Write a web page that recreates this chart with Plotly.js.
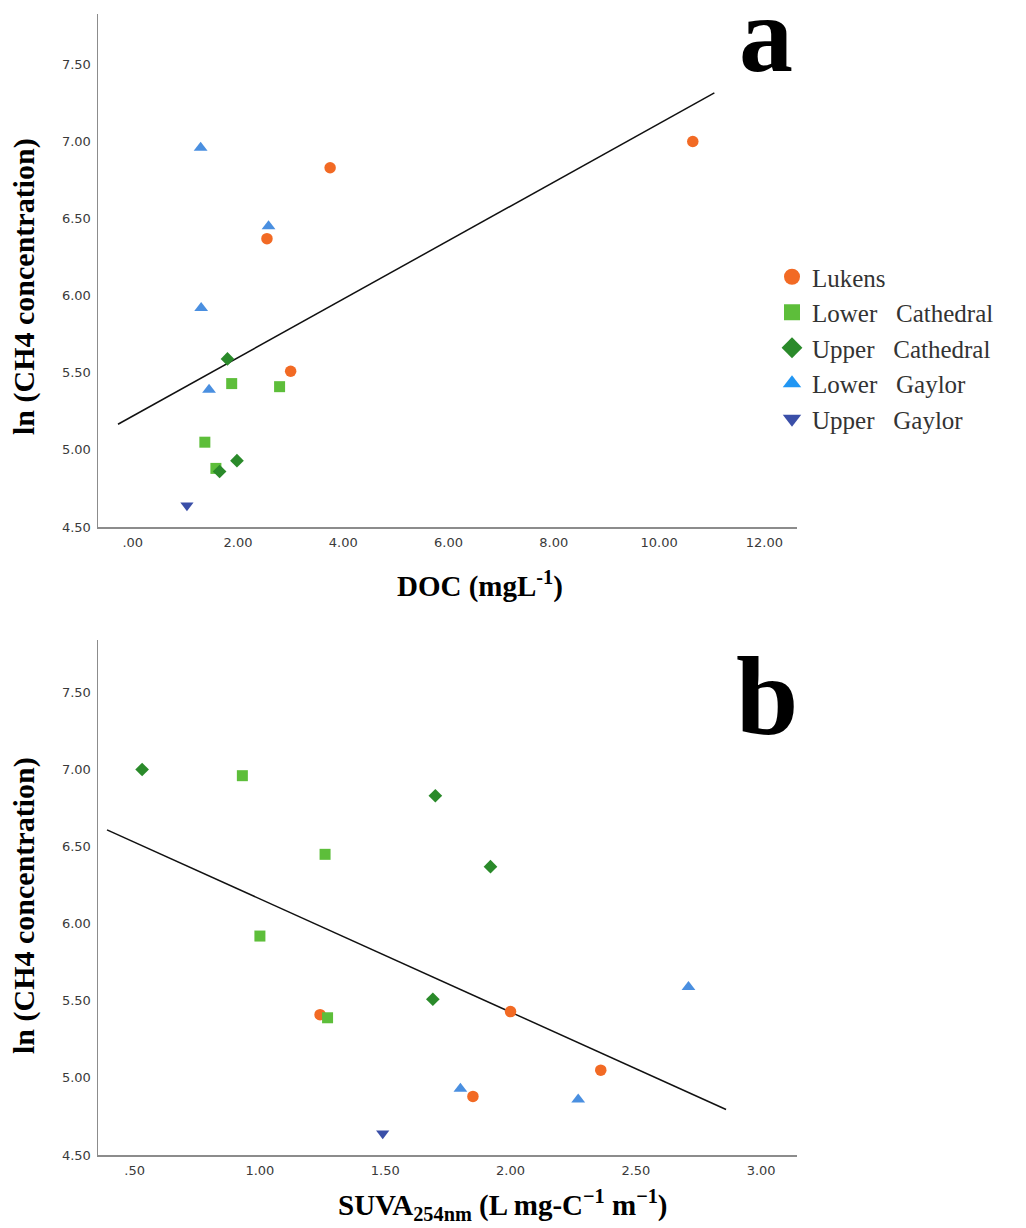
<!DOCTYPE html>
<html>
<head>
<meta charset="utf-8">
<script src="https://cdn.plot.ly/plotly-3.0.1.min.js"></script>
<style>
  html, body { margin: 0; padding: 0; background: #ffffff; }
  #chart { width: 1026px; height: 1228px; }
</style>
</head>
<body>
<div id="chart"></div>
<script>
// ---------- Data ----------
var seriesNames = ["Lukens", "Lower   Cathedral", "Upper   Cathedral", "Lower   Gaylor", "Upper   Gaylor"];

// Panel a: DOC (mg/L) vs ln(CH4)
var docLukens = [3.75, 2.55, 3.00, 10.64];
var lnLukensA = [6.83, 6.37, 5.51, 7.00];
var docLowerCathedral = [1.88, 2.79, 1.37, 1.58];
var lnLowerCathedralA = [5.43, 5.41, 5.05, 4.88];
var docUpperCathedral = [1.80, 1.98, 1.65];
var lnUpperCathedralA = [5.59, 4.93, 4.86];
var docLowerGaylor = [1.29, 2.58, 1.30, 1.45];
var lnLowerGaylorA = [6.96, 6.45, 5.92, 5.39];
var docUpperGaylor = [1.03];
var lnUpperGaylorA = [4.64];

// Panel b: SUVA254 vs ln(CH4)
var suvaLukens = [1.24, 1.85, 2.00, 2.36];
var lnLukensB = [5.41, 4.88, 5.43, 5.05];
var suvaLowerCathedral = [0.93, 1.26, 1.00, 1.27];
var lnLowerCathedralB = [6.96, 6.45, 5.92, 5.39];
var suvaUpperCathedral = [0.53, 1.70, 1.92, 1.69];
var lnUpperCathedralB = [7.00, 6.83, 6.37, 5.51];
var suvaLowerGaylor = [1.80, 2.27, 2.71];
var lnLowerGaylorB = [4.93, 4.86, 5.59];
var suvaUpperGaylor = [1.49];
var lnUpperGaylorB = [4.64];

// Extent of the drawn fit lines (x)
var fitSpanA = [-0.28, 11.05];
var fitSpanB = [0.39, 2.86];

// Tick labels
var yTickVals = [4.5, 5.0, 5.5, 6.0, 6.5, 7.0, 7.5];
var yTickText = ["4.50", "5.00", "5.50", "6.00", "6.50", "7.00", "7.50"];
var xTickValsA = [0, 2, 4, 6, 8, 10, 12];
var xTickTextA = [".00", "2.00", "4.00", "6.00", "8.00", "10.00", "12.00"];
var xTickValsB = [0.5, 1.0, 1.5, 2.0, 2.5, 3.0];
var xTickTextB = [".50", "1.00", "1.50", "2.00", "2.50", "3.00"];

// ---------- Styles ----------
var markerSymbols = ["circle", "square", "diamond", "triangle-up", "triangle-down"];
var markerColors = ["#F26A24", "#5DBE3A", "#2A8A2A", "#4A8FE0", "#3A4FA8"];
var legendColors = ["#F26A24", "#5DBE3A", "#2A8A2A", "#2196F3", "#3A4FA8"];
var markerSizes = [11.5, 11, 10.5, 12, 11.5];

var seriesA = [
  [docLukens, lnLukensA], [docLowerCathedral, lnLowerCathedralA],
  [docUpperCathedral, lnUpperCathedralA], [docLowerGaylor, lnLowerGaylorA],
  [docUpperGaylor, lnUpperGaylorA]
];
var seriesB = [
  [suvaLukens, lnLukensB], [suvaLowerCathedral, lnLowerCathedralB],
  [suvaUpperCathedral, lnUpperCathedralB], [suvaLowerGaylor, lnLowerGaylorB],
  [suvaUpperGaylor, lnUpperGaylorB]
];

function olsLine(series, span) {
  var xs = [], ys = [];
  series.forEach(function (s) { xs = xs.concat(s[0]); ys = ys.concat(s[1]); });
  var n = xs.length, mx = 0, my = 0;
  for (var i = 0; i < n; i++) { mx += xs[i]; my += ys[i]; }
  mx /= n; my /= n;
  var sxy = 0, sxx = 0;
  for (var j = 0; j < n; j++) { sxy += (xs[j] - mx) * (ys[j] - my); sxx += (xs[j] - mx) * (xs[j] - mx); }
  var b = sxy / sxx, a = my - b * mx;
  return { x: span.slice(), y: span.map(function (v) { return a + b * v; }) };
}

var traces = [];
var fitA = olsLine(seriesA, fitSpanA);
var fitB = olsLine(seriesB, fitSpanB);
traces.push({ x: fitA.x, y: fitA.y, mode: "lines", line: { color: "#111", width: 1.5 }, showlegend: false, hoverinfo: "skip", xaxis: "x", yaxis: "y" });
traces.push({ x: fitB.x, y: fitB.y, mode: "lines", line: { color: "#111", width: 1.5 }, showlegend: false, hoverinfo: "skip", xaxis: "x2", yaxis: "y2" });

for (var k = 0; k < seriesNames.length; k++) {
  traces.push({
    x: seriesA[k][0], y: seriesA[k][1], mode: "markers", name: seriesNames[k],
    marker: { symbol: markerSymbols[k], color: markerColors[k], size: markerSizes[k] },
    showlegend: false, xaxis: "x", yaxis: "y"
  });
  traces.push({
    x: seriesB[k][0], y: seriesB[k][1], mode: "markers", name: seriesNames[k],
    marker: { symbol: markerSymbols[k], color: markerColors[k], size: markerSizes[k] },
    showlegend: false, xaxis: "x2", yaxis: "y2"
  });
}
// legend entries (larger symbols like the reference legend)
for (var m = 0; m < seriesNames.length; m++) {
  traces.push({
    x: [null], y: [null], mode: "markers", name: seriesNames[m],
    marker: { symbol: markerSymbols[m], color: legendColors[m], size: 16 },
    showlegend: true, xaxis: "x", yaxis: "y"
  });
}

var W = 1026, H = 1228;
var tickFont = { family: "DejaVu Sans, Verdana, sans-serif", size: 13, color: "#3a3a3a" };
var axisCommon = {
  showline: true, linecolor: "#8c8c8c", linewidth: 1.5, showgrid: false, zeroline: false,
  ticks: "", tickfont: tickFont, tickmode: "array", ticklabelstandoff: 3, fixedrange: true
};
function ax(extra) { return Object.assign({}, axisCommon, extra); }

var titleFont = { family: "Liberation Serif, Times New Roman, serif", size: 29, color: "#000" };

var layout = {
  width: W, height: H,
  margin: { l: 0, r: 0, t: 0, b: 0 },
  paper_bgcolor: "#ffffff", plot_bgcolor: "#ffffff",
  showlegend: true,
  legend: {
    x: 772 / W, y: 1 - 254 / H, xanchor: "left", yanchor: "top",
    font: { family: "Liberation Serif, Times New Roman, serif", size: 25, color: "#333" },
    bgcolor: "rgba(0,0,0,0)", itemwidth: 30, tracegroupgap: 0
  },
  xaxis: ax({ domain: [98 / W, 797 / W], range: [-0.66, 12.62], tickvals: xTickValsA, ticktext: xTickTextA, anchor: "y" }),
  yaxis: ax({ domain: [(H - 527) / H, (H - 13.5) / H], range: [4.5, 7.83], tickvals: yTickVals, ticktext: yTickText, anchor: "x" }),
  xaxis2: ax({ domain: [98 / W, 797 / W], range: [0.354, 3.143], tickvals: xTickValsB, ticktext: xTickTextB, anchor: "y2" }),
  yaxis2: ax({ domain: [(H - 1155) / H, (H - 640) / H], range: [4.5, 7.84], tickvals: yTickVals, ticktext: yTickText, anchor: "x2" }),
  annotations: [
    { text: "<b>ln (CH4 concentration)</b>", textangle: -90, xref: "paper", yref: "paper",
      x: 24 / W, y: 1 - 287 / H, xanchor: "center", yanchor: "middle", showarrow: false,
      font: Object.assign({}, titleFont, { size: 30 }) },
    { text: "<b>ln (CH4 concentration)</b>", textangle: -90, xref: "paper", yref: "paper",
      x: 24 / W, y: 1 - 906 / H, xanchor: "center", yanchor: "middle", showarrow: false,
      font: Object.assign({}, titleFont, { size: 30 }) },
    { text: "<b>DOC (mgL<sup>-1</sup>)</b>", xref: "paper", yref: "paper",
      x: 480 / W, y: 1 - 584 / H, xanchor: "center", yanchor: "middle", showarrow: false,
      font: titleFont },
    { text: "<b>SUVA<sub>254nm</sub> (L mg-C<sup>\u22121</sup> m<sup>\u22121</sup>)</b>", xref: "paper", yref: "paper",
      x: 503 / W, y: 1 - 1205 / H, xanchor: "center", yanchor: "middle", showarrow: false,
      font: titleFont },
    { text: "<b>a</b>", xref: "paper", yref: "paper",
      x: 766 / W, y: 1 - 34 / H, xanchor: "center", yanchor: "middle", showarrow: false,
      font: { family: "Liberation Serif, Times New Roman, serif", size: 108, color: "#000" } },
    { text: "<b>b</b>", xref: "paper", yref: "paper",
      x: 767 / W, y: 1 - 696 / H, xanchor: "center", yanchor: "middle", showarrow: false,
      font: { family: "Liberation Serif, Times New Roman, serif", size: 112, color: "#000" } }
  ]
};

Plotly.newPlot("chart", traces, layout, { staticPlot: true, displayModeBar: false });
</script>
</body>
</html>
